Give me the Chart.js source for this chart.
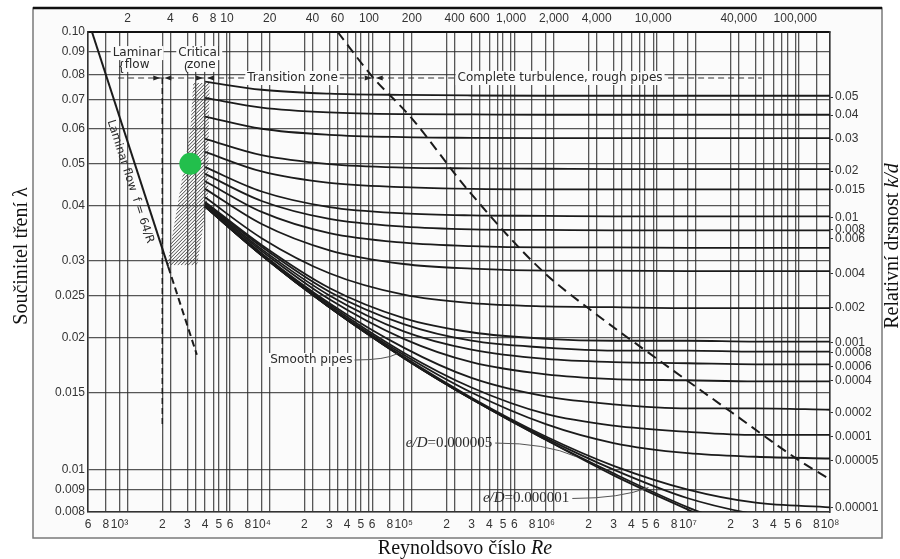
<!DOCTYPE html>
<html>
<head>
<meta charset="utf-8">
<script src="https://cdn.jsdelivr.net/npm/chart.js@4.4.0/dist/chart.umd.min.js"></script>
<style>
  html, body { margin: 0; padding: 0; background: #fff; }
  #wrap { position: relative; width: 900px; height: 559px; }
</style>
</head>
<body>
<div id="wrap"><canvas id="moody"></canvas></div>
<script>
const reynolds = [4000, 1e4, 3e4, 1e5, 3e5, 1e6, 3e6, 1e7, 3e7, 1e8];

// friction factor along each relative roughness curve
const f_0_05     = [0.0770, 0.0738, 0.0723, 0.0718, 0.0716, 0.0715, 0.0715, 0.0715, 0.0715, 0.0715];
const f_0_04     = [0.0707, 0.0672, 0.0655, 0.0649, 0.0648, 0.0647, 0.0647, 0.0647, 0.0647, 0.0647];
const f_0_03     = [0.0641, 0.0601, 0.0582, 0.0575, 0.0573, 0.0572, 0.0572, 0.0572, 0.0572, 0.0572];
const f_0_02     = [0.0570, 0.0523, 0.0499, 0.0490, 0.0488, 0.0487, 0.0486, 0.0486, 0.0486, 0.0486];
const f_0_015    = [0.0532, 0.0480, 0.0452, 0.0442, 0.0438, 0.0437, 0.0437, 0.0437, 0.0437, 0.0437];
const f_0_01     = [0.0491, 0.0432, 0.0398, 0.0385, 0.0381, 0.0380, 0.0379, 0.0379, 0.0379, 0.0379];
const f_0_008    = [0.0474, 0.0411, 0.0374, 0.0359, 0.0354, 0.0353, 0.0352, 0.0352, 0.0352, 0.0352];
const f_0_006    = [0.0456, 0.0388, 0.0347, 0.0330, 0.0324, 0.0322, 0.0322, 0.0321, 0.0321, 0.0321];
const f_0_004    = [0.0438, 0.0364, 0.0317, 0.0295, 0.0288, 0.0285, 0.0285, 0.0284, 0.0284, 0.0284];
const f_0_002    = [0.0419, 0.0338, 0.0281, 0.0251, 0.0240, 0.0236, 0.0235, 0.0234, 0.0234, 0.0234];
const f_0_001    = [0.0409, 0.0326, 0.0260, 0.0222, 0.0206, 0.0199, 0.0197, 0.0197, 0.0196, 0.0196];
const f_0_0008   = [0.0407, 0.0323, 0.0255, 0.0215, 0.0197, 0.0190, 0.0187, 0.0187, 0.0186, 0.0186];
const f_0_0006   = [0.0405, 0.0319, 0.0250, 0.0207, 0.0188, 0.0179, 0.0176, 0.0175, 0.0174, 0.0174];
const f_0_0004   = [0.0403, 0.0316, 0.0245, 0.0199, 0.0176, 0.0165, 0.0161, 0.0160, 0.0159, 0.0159];
const f_0_0002   = [0.0401, 0.0312, 0.0240, 0.0190, 0.0162, 0.0147, 0.0141, 0.0138, 0.0138, 0.0137];
const f_0_0001   = [0.0400, 0.0311, 0.0238, 0.0185, 0.0154, 0.0134, 0.0126, 0.0122, 0.0120, 0.0120];
const f_0_00005  = [0.0400, 0.0310, 0.0236, 0.0183, 0.0150, 0.0127, 0.0115, 0.0109, 0.0107, 0.0106];
const f_0_00001  = [0.0399, 0.0309, 0.0235, 0.0181, 0.0146, 0.0119, 0.0102, 0.0090, 0.0084, 0.0082];
const f_0_000005 = [0.0399, 0.0309, 0.0235, 0.0180, 0.0145, 0.0118, 0.0100, 0.0086, 0.0079, 0.0075];
const f_0_000001 = [0.0399, 0.0309, 0.0235, 0.0180, 0.0145, 0.0117, 0.0098, 0.0082, 0.0072, 0.0064];
const f_smooth   = [0.0399, 0.0309, 0.0235, 0.0180, 0.0145, 0.0117, 0.0097, 0.0081, 0.0069, 0.0059];

const curveSeries = [f_0_05, f_0_04, f_0_03, f_0_02, f_0_015, f_0_01, f_0_008, f_0_006, f_0_004,
  f_0_002, f_0_001, f_0_0008, f_0_0006, f_0_0004, f_0_0002, f_0_0001, f_0_00005, f_0_00001,
  f_0_000005, f_0_000001, f_smooth];

// laminar flow f = 64/Re, solid then dashed
const laminarRe = [640, 2200];
const laminarF = [0.100, 0.0291];
const laminarDashRe = [2200, 3500];
const laminarDashF = [0.0291, 0.0183];

// dashed limit of complete turbulence
const boundaryRe = [34300, 60500, 112000, 284000, 929000, 2.2e6, 5.28e6, 2.04e7, 6.05e7, 1e8];
const boundaryF = [0.100, 0.0789, 0.0639, 0.0435, 0.0286, 0.0228, 0.0185, 0.0135, 0.0105, 0.0095];

// hatched critical zone outline
const criticalRe = [3300, 4300, 4200, 3520, 2170, 3150];
const criticalF = [0.0765, 0.0765, 0.0424, 0.0293, 0.0293, 0.0597];

// green marker
const markRe = [3150];
const markF = [0.05];

// axis ticks
const bottomTicks = [600, 800, 1e3, 2e3, 3e3, 4e3, 5e3, 6e3, 8e3, 1e4, 2e4, 3e4, 4e4, 5e4, 6e4, 8e4,
  1e5, 2e5, 3e5, 4e5, 5e5, 6e5, 8e5, 1e6, 2e6, 3e6, 4e6, 5e6, 6e6, 8e6, 1e7, 2e7, 3e7, 4e7, 5e7, 6e7, 8e7, 1e8];
const topFactor = 570;
const topTicks = [2, 4, 6, 8, 10, 20, 40, 60, 80, 100, 200, 400, 600, 800, 1000, 2000, 4000, 6000, 8000,
  10000, 20000, 40000, 60000, 80000, 100000];
const topLabelled = [2, 4, 6, 8, 10, 20, 40, 60, 100, 200, 400, 600, 1000, 2000, 4000, 10000, 40000, 100000];
const leftTicks = [0.008, 0.009, 0.01, 0.015, 0.02, 0.025, 0.03, 0.04, 0.05, 0.06, 0.07, 0.08, 0.09, 0.1];
const rightLabels = ['0.05', '0.04', '0.03', '0.02', '0.015', '0.01', '0.008', '0.006', '0.004', '0.002',
  '0.001', '0.0008', '0.0006', '0.0004', '0.0002', '0.0001', '0.00005', '0.00001'];
const rightTickF = [0.0710, 0.0646, 0.0569, 0.0481, 0.0436, 0.0376, 0.0353, 0.0337, 0.0281, 0.0235,
  0.0195, 0.0185, 0.0172, 0.0160, 0.0135, 0.0119, 0.0105, 0.0082];

// text notes in the plot
const noteText = ['Laminar', 'flow', 'Critical', 'zone', 'Transition zone', 'Complete turbulence, rough pipes'];
const noteRe = [1330, 1330, 3640, 3760, 16500, 1.26e6];
const noteF = [0.0895, 0.0841, 0.0895, 0.0841, 0.0785, 0.0785];
const zoneRowF = 0.0785;
const zoneRowRe = [977, 3.31e7];
const zoneArrowRe = [2000, 4000, 61500];

const sup = { 3: '³', 4: '⁴', 5: '⁵', 6: '⁶', 7: '⁷', 8: '⁸' };
const ink = '#1b1b1b';
const gridInk = 'rgba(45,45,45,0.8)';
const tickFont = { family: "'Liberation Sans', Arial, sans-serif", size: 12 };
const noteFont = "12px 'DejaVu Sans', 'Liberation Sans', sans-serif";

Chart.defaults.font.family = "'Liberation Sans', Arial, sans-serif";

const pts = (xs, ys) => xs.map((x, i) => ({ x: x, y: ys[i] }));

const datasets = [{
  data: pts(markRe, markF), showLine: false, pointRadius: 11, pointHoverRadius: 11,
  backgroundColor: '#22bf4c', borderWidth: 0, order: -1, xAxisID: 'x', yAxisID: 'y'
}];
curveSeries.forEach(arr => {
  datasets.push({
    data: pts(reynolds, arr), borderColor: ink, borderWidth: 1.8, pointRadius: 0,
    cubicInterpolationMode: 'monotone', fill: false, xAxisID: 'x', yAxisID: 'y'
  });
});
datasets.push({ data: pts(laminarRe, laminarF), borderColor: ink, borderWidth: 2, pointRadius: 0, xAxisID: 'x', yAxisID: 'y' });
datasets.push({ data: pts(laminarDashRe, laminarDashF), borderColor: ink, borderWidth: 2, borderDash: [7, 4], pointRadius: 0, xAxisID: 'x', yAxisID: 'y' });
datasets.push({ data: pts(boundaryRe, boundaryF), borderColor: ink, borderWidth: 2, borderDash: [10, 6], pointRadius: 0, cubicInterpolationMode: 'monotone', xAxisID: 'x', yAxisID: 'y' });

function labelBox(c, text, x, y) {
  const w = c.measureText(text).width;
  c.fillStyle = '#fbfbfb';
  c.fillRect(x - w / 2 - 2, y - 7, w + 4, 14);
  c.fillStyle = '#2a2a2a';
  c.fillText(text, x, y);
}

function arrowPair(c, x, y) {
  c.beginPath();
  c.moveTo(x - 9, y - 2.6); c.lineTo(x - 2, y); c.lineTo(x - 9, y + 2.6); c.closePath();
  c.moveTo(x + 9, y - 2.6); c.lineTo(x + 2, y); c.lineTo(x + 9, y + 2.6); c.closePath();
  c.fill();
}

function mixedText(c, parts, x, y, align) {
  let total = 0;
  parts.forEach(p => { c.font = p[1]; total += c.measureText(p[0]).width; });
  let cx = align === 'center' ? x - total / 2 : x;
  c.textAlign = 'left';
  parts.forEach(p => { c.font = p[1]; c.fillText(p[0], cx, y); cx += c.measureText(p[0]).width; });
  return cx;
}

function leader(c, x0, y0, x1, y1) {
  c.save();
  c.strokeStyle = '#555'; c.lineWidth = 1;
  c.beginPath();
  c.moveTo(x0, y0);
  c.quadraticCurveTo((x0 + x1) / 2 + 10, y0, x1, y1);
  c.stroke();
  c.restore();
}

const decor = {
  id: 'decor',
  beforeDraw(chart) {
    const c = chart.ctx;
    c.save();
    c.fillStyle = '#fff';
    c.fillRect(0, 0, chart.width, chart.height);
    c.fillStyle = '#fbfbfb';
    c.fillRect(33, 8, 849, 530);
    c.strokeStyle = '#7a7a7a';
    c.lineWidth = 1.5;
    c.strokeRect(33, 8, 849, 530);
    c.strokeStyle = '#111';
    c.lineWidth = 2.5;
    c.beginPath(); c.moveTo(33, 8); c.lineTo(882, 8); c.stroke();
    c.restore();
  },
  beforeDatasetsDraw(chart) {
    const c = chart.ctx, X = chart.scales.x, Y = chart.scales.y;
    const xs = criticalRe.map(r => X.getPixelForValue(r));
    const ys = criticalF.map(f => Y.getPixelForValue(f));
    c.save();
    c.beginPath();
    xs.forEach((x, i) => i ? c.lineTo(x, ys[i]) : c.moveTo(x, ys[i]));
    c.closePath();
    c.clip();
    const x0 = Math.min(...xs), x1 = Math.max(...xs), y0 = Math.min(...ys), y1 = Math.max(...ys);
    c.strokeStyle = '#444';
    c.lineWidth = 1;
    c.beginPath();
    for (let k = x0 - (y1 - y0); k < x1; k += 3.5) {
      c.moveTo(k, y1); c.lineTo(k + (y1 - y0), y0);
    }
    c.stroke();
    c.restore();

    // dashed line at the critical Reynolds number
    c.save();
    c.strokeStyle = ink; c.lineWidth = 1.5; c.setLineDash([6, 4]);
    c.beginPath();
    c.moveTo(X.getPixelForValue(2000), Y.getPixelForValue(zoneRowF));
    c.lineTo(X.getPixelForValue(2000), Y.getPixelForValue(0.0125));
    c.stroke();
    c.restore();
  },
  afterDatasetsDraw(chart) {
    const c = chart.ctx, X = chart.scales.x, Y = chart.scales.y;
    c.save();
    // zone row
    const ry = Y.getPixelForValue(zoneRowF);
    c.strokeStyle = '#333'; c.lineWidth = 1.2; c.setLineDash([6, 4]);
    c.beginPath();
    c.moveTo(X.getPixelForValue(zoneRowRe[0]), ry); c.lineTo(X.getPixelForValue(zoneRowRe[1]), ry);
    c.stroke();
    c.setLineDash([]);
    c.fillStyle = '#222';
    zoneArrowRe.forEach(r => arrowPair(c, X.getPixelForValue(r), ry));

    c.font = noteFont;
    c.textAlign = 'center'; c.textBaseline = 'middle';
    noteText.forEach((t, i) => labelBox(c, t, X.getPixelForValue(noteRe[i]), Y.getPixelForValue(noteF[i])));
    c.font = "13px 'Liberation Sans', Arial, sans-serif";
    c.fillText('{', X.getPixelForValue(1000) + 2, Y.getPixelForValue(0.0835));
    c.fillText('(', X.getPixelForValue(2950), Y.getPixelForValue(0.0835));

    // laminar label along the line
    const ax = X.getPixelForValue(laminarRe[0]), ay = Y.getPixelForValue(laminarF[0]);
    const bx = X.getPixelForValue(laminarRe[1]), by = Y.getPixelForValue(laminarF[1]);
    c.save();
    c.translate(X.getPixelForValue(1190), Y.getPixelForValue(0.0455));
    c.rotate(Math.atan2(by - ay, bx - ax));
    c.font = "11.5px 'DejaVu Sans', 'Liberation Sans', sans-serif";
    c.fillStyle = '#2a2a2a';
    c.fillText('Laminar flow  f = 64/R', 0, 0);
    c.restore();

    // smooth pipes
    c.font = noteFont;
    c.textAlign = 'left';
    const sx = X.getPixelForValue(11500), sy = Y.getPixelForValue(0.0178);
    c.fillStyle = '#fbfbfb';
    const sw = c.measureText('Smooth pipes').width;
    c.fillRect(sx - 2, sy - 7, sw + 4, 14);
    c.fillStyle = '#2a2a2a';
    c.fillText('Smooth pipes', sx, sy);
    leader(c, sx + sw + 2, sy, X.getPixelForValue(90000), Y.getPixelForValue(0.0184));

    // e/D notes
    const notes = [['0.000005', 1.035e5, 0.0115, 1.64e6, 0.0107], ['0.000001', 3.61e5, 0.00859, 5.28e6, 0.0091]];
    notes.forEach(n => {
      const tx = X.getPixelForValue(n[1]), ty = Y.getPixelForValue(n[2]);
      c.fillStyle = '#2a2a2a';
      const end = mixedText(c, [['e/D', "italic 15px 'Liberation Serif', serif"], ['=' + n[0], "15px 'Liberation Serif', serif"]], tx, ty, 'left');
      leader(c, end + 3, ty, X.getPixelForValue(n[3]), Y.getPixelForValue(n[4]));
    });
    c.restore();
  },
  afterDraw(chart) {
    const c = chart.ctx;
    c.save();
    c.fillStyle = '#111';
    c.textBaseline = 'middle';
    const serif = "20px 'Liberation Serif', 'Times New Roman', serif";
    const serifIt = "italic 20px 'Liberation Serif', 'Times New Roman', serif";
    c.save();
    c.translate(22, 256); c.rotate(-Math.PI / 2);
    mixedText(c, [['Součinitel tření λ', serif]], 0, 0, 'center');
    c.restore();
    c.save();
    c.translate(893, 246); c.rotate(-Math.PI / 2);
    mixedText(c, [['Relativní drsnost ', serif], ['k/d', serifIt]], 0, 0, 'center');
    c.restore();
    mixedText(c, [['Reynoldsovo číslo ', serif], ['Re', serifIt]], 465, 549, 'center');
    c.restore();
  }
};

const moodyChart = new Chart(document.getElementById('moody'), {
  type: 'line',
  data: { datasets: datasets },
  plugins: [decor],
  options: {
    responsive: true,
    maintainAspectRatio: false,
    devicePixelRatio: 1,
    animation: false,
    layout: { padding: 0 },
    plugins: { legend: { display: false }, tooltip: { enabled: false } },
    scales: {
      x: {
        type: 'logarithmic', position: 'bottom', min: 600, max: 1e8,
        afterBuildTicks: s => { s.ticks = bottomTicks.map(v => ({ value: v })); },
        afterFit: s => { s.height = 47; },
        grid: { color: gridInk, lineWidth: 1.3, drawTicks: false },
        border: { color: '#333', width: 1.5 },
        ticks: {
          autoSkip: false, maxRotation: 0, minRotation: 0, padding: 5, color: '#333', font: tickFont,
          callback: v => {
            const e = Math.floor(Math.log10(v) + 1e-9);
            const lead = Math.round(v / Math.pow(10, e));
            return lead === 1 ? '10' + sup[e] : String(lead);
          }
        }
      },
      xTop: {
        type: 'logarithmic', position: 'top', min: 600 / topFactor, max: 1e8 / topFactor,
        afterBuildTicks: s => { s.ticks = topTicks.map(v => ({ value: v })); },
        afterFit: s => { s.height = 32; },
        grid: { color: gridInk, lineWidth: 1.3, drawTicks: false },
        border: { color: '#111', width: 2 },
        ticks: {
          autoSkip: false, maxRotation: 0, minRotation: 0, padding: 6, color: '#333', font: tickFont,
          callback: v => topLabelled.includes(v) ? v.toLocaleString('en-US') : ''
        }
      },
      y: {
        type: 'logarithmic', position: 'left', min: 0.008, max: 0.1,
        afterBuildTicks: s => { s.ticks = leftTicks.map(v => ({ value: v })); },
        afterFit: s => { s.width = 88; },
        grid: { color: gridInk, lineWidth: 1.3, drawTicks: false },
        border: { color: '#333', width: 1.5 },
        ticks: {
          autoSkip: false, padding: 3, color: '#333', font: tickFont,
          callback: v => v === 0.1 ? '0.10' : String(v)
        }
      },
      yRight: {
        type: 'logarithmic', position: 'right', min: 0.008, max: 0.1,
        afterBuildTicks: s => { s.ticks = rightTickF.map(v => ({ value: v })); },
        afterFit: s => { s.width = 70; },
        grid: { drawOnChartArea: false, drawTicks: true, tickLength: 3, color: '#333' },
        border: { color: '#333', width: 1.5 },
        ticks: {
          autoSkip: false, padding: 2, color: '#333', font: tickFont,
          callback: v => rightLabels[rightTickF.indexOf(v)]
        }
      }
    }
  }
});
</script>
</body>
</html>
